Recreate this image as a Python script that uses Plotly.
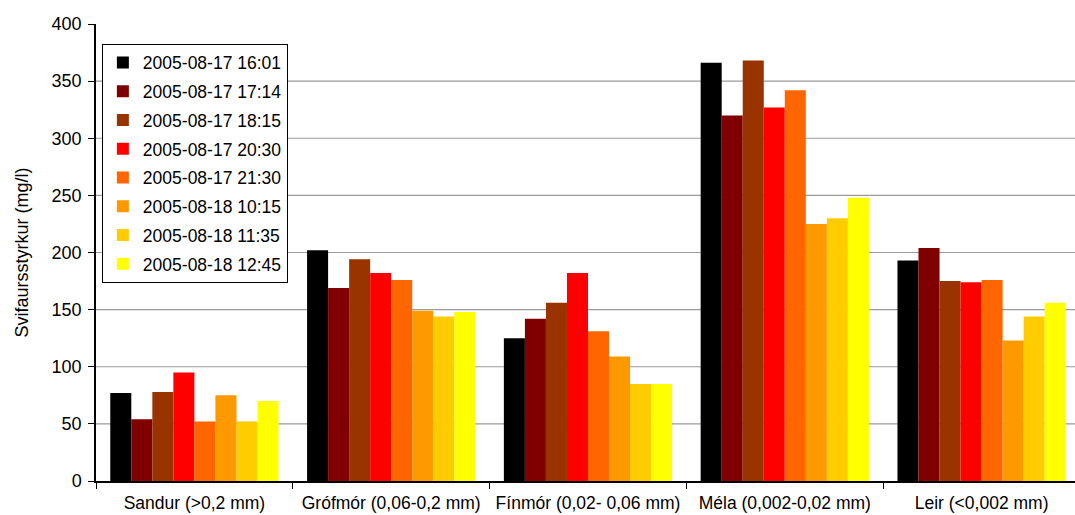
import plotly.graph_objects as go

# Suspended sediment concentration by grain-size fraction and sampling time
categories = [
    "Sandur (>0,2 mm)",
    "Grófmór (0,06-0,2 mm)",
    "Fínmór (0,02- 0,06 mm)",
    "Méla (0,002-0,02 mm)",
    "Leir (<0,002 mm)",
]

times = [
    "2005-08-17 16:01",
    "2005-08-17 17:14",
    "2005-08-17 18:15",
    "2005-08-17 20:30",
    "2005-08-17 21:30",
    "2005-08-18 10:15",
    "2005-08-18 11:35",
    "2005-08-18 12:45",
]

s_1601 = [77, 202, 125, 366, 193]
s_1714 = [54, 169, 142, 320, 204]
s_1815 = [78, 194, 156, 368, 175]
s_2030 = [95, 182, 182, 327, 174]
s_2130 = [52, 176, 131, 342, 176]
s_1015 = [75, 149, 109, 225, 123]
s_1135 = [52, 144, 85, 230, 144]
s_1245 = [70, 148, 85, 248, 156]

series = [s_1601, s_1714, s_1815, s_2030, s_2130, s_1015, s_1135, s_1245]

colors = ["#000000", "#800000", "#993300", "#FF0000",
          "#FF6600", "#FF9900", "#FFCC00", "#FFFF00"]

y_ticks = [0, 50, 100, 150, 200, 250, 300, 350, 400]
grid_values = [50, 100, 150, 200, 250, 300, 350]

FONT = "Liberation Sans, Arial, sans-serif"

fig = go.Figure()
for i, (name, vals, col) in enumerate(zip(times, series, colors)):
    fig.add_trace(go.Bar(
        x=categories, y=vals, name=name,
        marker=dict(color=col, line=dict(width=0)),
        legendgroup=f"g{i}",
    ))

# horizontal gridlines (none at the top of the axis)
for v in grid_values:
    fig.add_shape(type="line", xref="paper", yref="y",
                  x0=0, x1=1, y0=v, y1=v,
                  line=dict(color="#9a9a9a", width=1.2), layer="below")

fig.update_layout(
    width=1075, height=515,
    margin=dict(l=96, r=0, t=24, b=34),
    paper_bgcolor="white", plot_bgcolor="white",
    barmode="group", bargap=0.145, bargroupgap=0,
    font=dict(family=FONT, size=18, color="#000000"),
    showlegend=True,
    legend=dict(
        x=0.006, y=0.957, xanchor="left", yanchor="top",
        bgcolor="white", bordercolor="#000000", borderwidth=1,
        font=dict(family=FONT, size=17.5),
        tracegroupgap=3,
        itemwidth=30,
    ),
    xaxis=dict(
        range=[-0.5, 4.4746],
        showline=True, linecolor="#000000", linewidth=1.5,
        ticks="outside", ticklen=6, tickcolor="#000000", tickwidth=1,
        tickson="boundaries",
        tickangle=0, automargin=False,
        showgrid=False,
        tickfont=dict(family=FONT, size=17.5),
        ticklabelstandoff=5,
    ),
    yaxis=dict(
        range=[0, 400],
        tickvals=y_ticks,
        showline=True, linecolor="#000000", linewidth=1.5,
        ticks="outside", ticklen=6, tickcolor="#000000", tickwidth=1,
        showgrid=False, zeroline=False, automargin=False,
        tickfont=dict(family=FONT, size=18),
        ticklabelstandoff=3,
        title=dict(text="Svifaursstyrkur (mg/l)",
                   font=dict(family=FONT, size=18), standoff=18),
    ),
)

fig.write_html("out.html")
